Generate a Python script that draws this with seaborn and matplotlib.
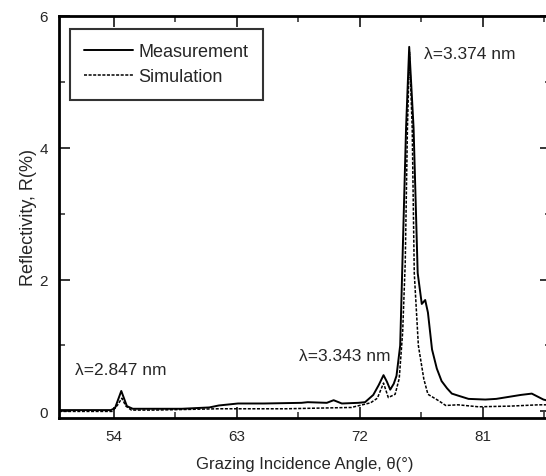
import numpy as np
import pandas as pd
import seaborn as sns
import matplotlib.pyplot as plt
from matplotlib.ticker import MultipleLocator
from matplotlib.lines import Line2D

# %%
# values
meas_x = [50, 52, 53.8, 54.1, 54.56, 54.97, 55.4, 57, 59, 61, 61.7, 63.1, 65,
          67.75, 68.2, 69.6, 70.1, 70.7, 71.9, 72.4, 73.0, 73.4, 73.75, 74.0,
          74.24, 74.5, 74.7, 74.97, 75.1, 75.4, 75.63, 75.95, 76.25, 76.55,
          76.8, 77.0, 77.3, 77.65, 78.0, 78.4, 78.75, 79.2, 79.97, 81.2, 82.0,
          82.9, 83.8, 84.6, 85.45, 86]
meas_r = [0.02, 0.02, 0.02, 0.05, 0.31, 0.08, 0.04, 0.04, 0.04, 0.06, 0.09,
          0.12, 0.12, 0.13, 0.14, 0.13, 0.17, 0.12, 0.13, 0.14, 0.25, 0.4,
          0.55, 0.45, 0.33, 0.42, 0.54, 1.0, 2.0, 4.3, 5.53, 4.3, 2.1, 1.63,
          1.69, 1.5, 0.94, 0.65, 0.46, 0.35, 0.27, 0.24, 0.19, 0.18, 0.19,
          0.22, 0.25, 0.27, 0.18, 0.15]

sim_x = [50, 53.9, 54.3, 54.6, 54.9, 55.3, 57, 61.7, 63, 66.6, 69, 71.4, 72.8,
         73.3, 73.75, 74.1, 74.6, 74.9, 75.15, 75.34, 75.5, 75.65, 75.85, 76.0,
         76.3, 76.7, 77.0, 77.8, 78.3, 79.2, 80.7, 83, 85.1, 86]
sim_r = [0.0, 0.0, 0.1, 0.2, 0.08, 0.02, 0.02, 0.04, 0.04, 0.04, 0.05, 0.06,
         0.13, 0.2, 0.43, 0.21, 0.26, 0.5, 1.2, 2.26, 4.3, 5.45, 4.3, 2.1, 1.0,
         0.49, 0.26, 0.16, 0.09, 0.1, 0.07, 0.08, 0.1, 0.1]

peak_labels = ["\u03bb=2.847 nm", "\u03bb=3.343 nm", "\u03bb=3.374 nm"]
label_x = [51.2, 67.55, 76.7]
label_r = [0.64, 0.85, 5.43]

xticks = [54, 63, 72, 81]
yticks = [0, 2, 4, 6]

# %%
sns.set_style("ticks")
plt.rcParams["font.family"] = ["Liberation Sans", "DejaVu Sans"]

meas_df = pd.DataFrame({"angle": meas_x, "R": meas_r})
sim_df = pd.DataFrame({"angle": sim_x, "R": sim_r})

fig = plt.figure(figsize=(5.46, 4.77), dpi=100)
ax = fig.add_axes([0.108, 0.1216, 0.901, 0.843])

sns.lineplot(data=meas_df, x="angle", y="R", ax=ax, color="black",
             linewidth=1.4, estimator=None, sort=False)
sns.lineplot(data=sim_df, x="angle", y="R", ax=ax, color="black",
             linewidth=1.1, linestyle=(0, (2, 1)), estimator=None, sort=False)

ax.set_xlim(50, 86)
ax.set_ylim(-0.1, 6)
ax.set_xticks(xticks)
ax.set_yticks(yticks)
ax.xaxis.set_minor_locator(MultipleLocator(4.5))
ax.yaxis.set_minor_locator(MultipleLocator(1))
ax.tick_params(which="major", direction="in", length=8, width=1.3,
               top=True, right=True, labelsize=11, pad=8)
ax.tick_params(which="minor", direction="in", length=4, width=1.1,
               top=True, right=True)
for sp in ax.spines.values():
    sp.set_linewidth(2)
    sp.set_color("black")

ax.set_xlabel("Grazing Incidence Angle, \u03b8(\u00b0)", fontsize=12, labelpad=9)
ax.set_ylabel("Reflectivity, R(%)", fontsize=13, labelpad=2)

for txt, lx, ly in zip(peak_labels, label_x, label_r):
    ax.text(lx, ly, txt, fontsize=12.5, ha="left", va="center")

handles = [Line2D([], [], color="black", linewidth=1.4),
           Line2D([], [], color="black", linewidth=1.1, linestyle=(0, (2, 1)))]
leg = ax.legend(handles, ["Measurement", "Simulation"], loc="upper left",
                bbox_to_anchor=(0.022, 0.968), borderaxespad=0, fontsize=13,
                frameon=True, fancybox=False, handlelength=2.7,
                handletextpad=0.3, borderpad=0.8, labelspacing=0.45)
leg.get_frame().set_edgecolor("black")
leg.get_frame().set_linewidth(1.5)

fig.savefig("out.png", dpi=100)
